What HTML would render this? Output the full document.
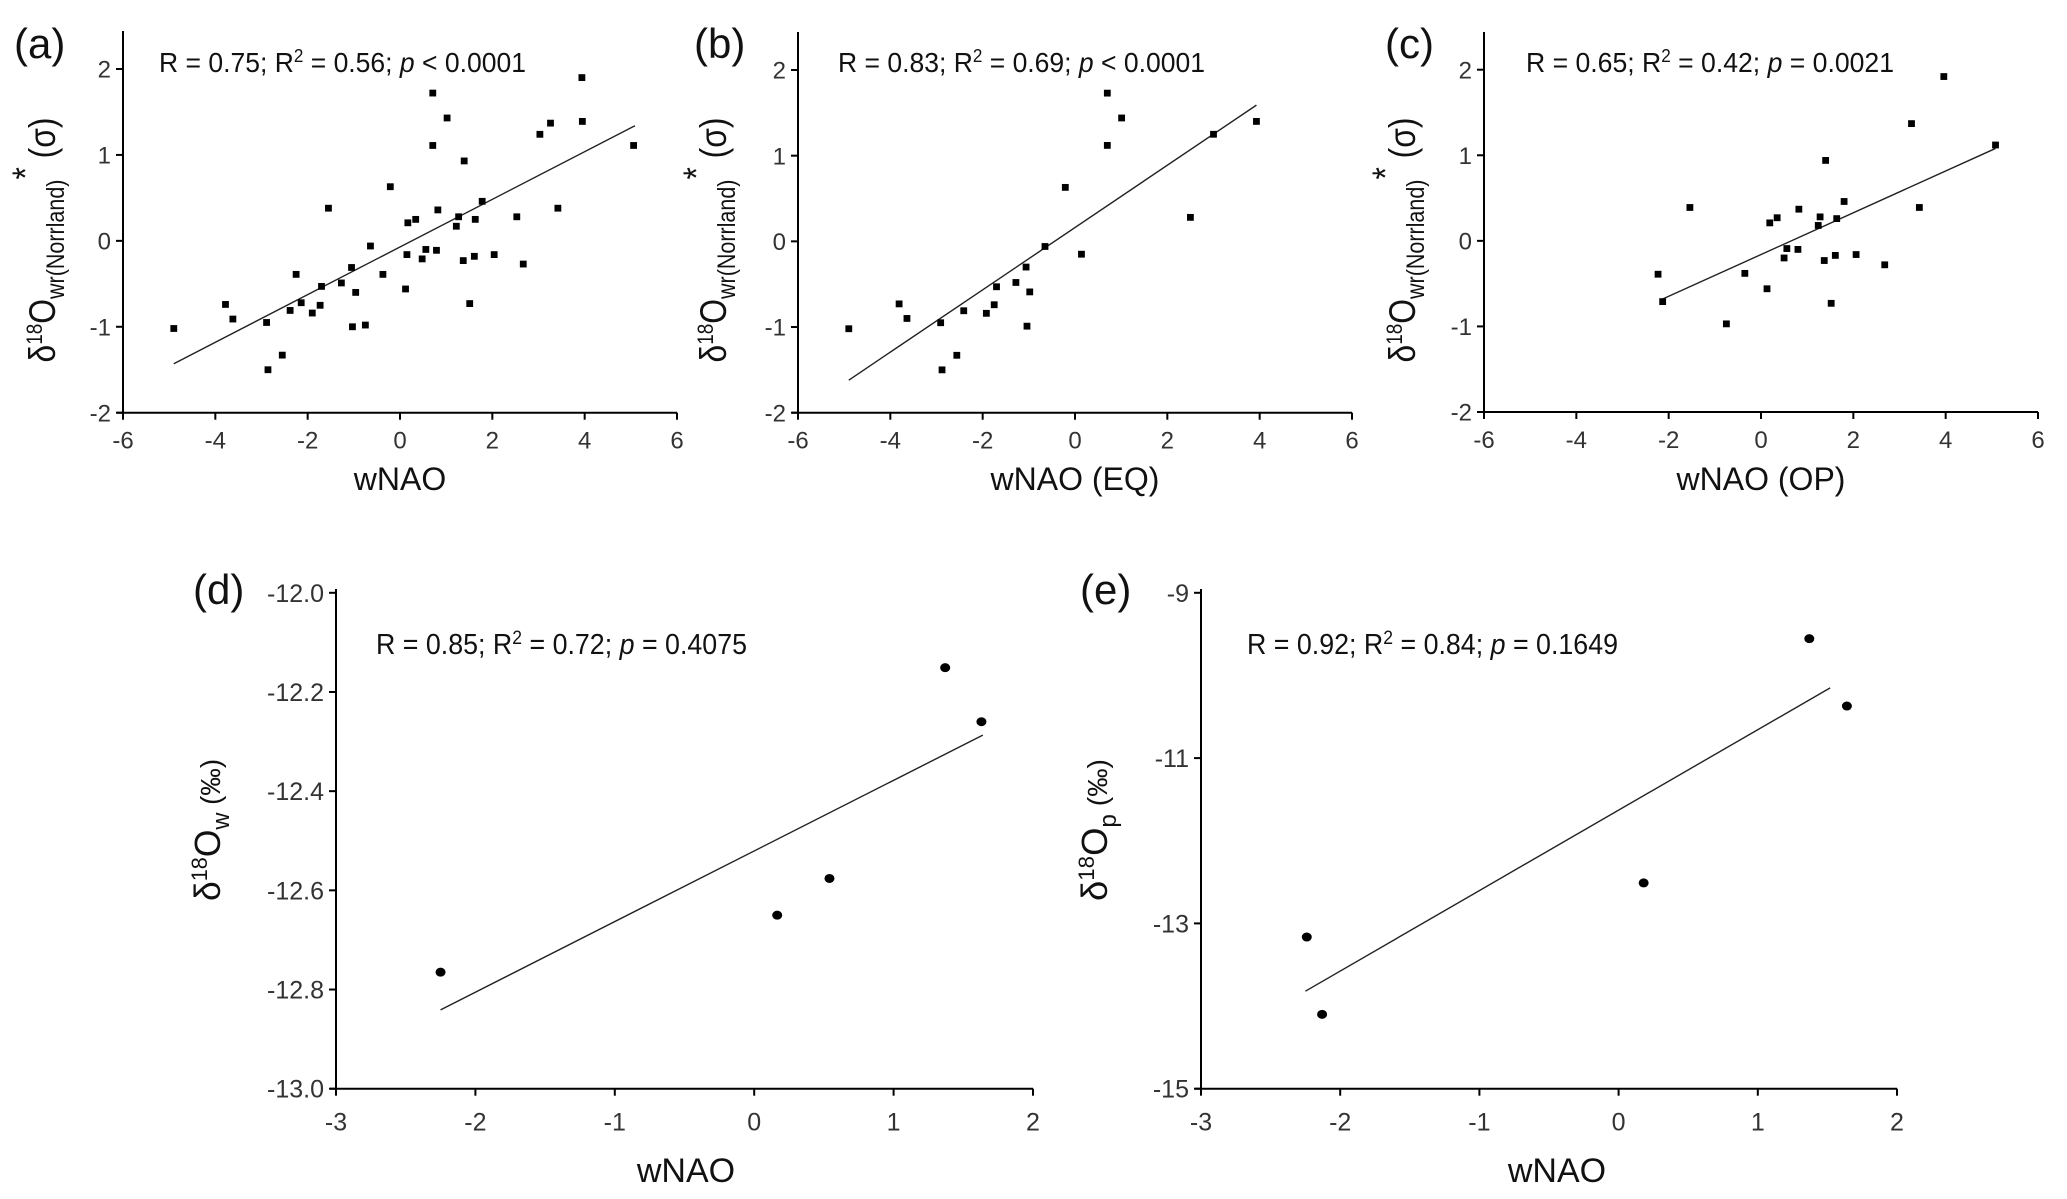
<!DOCTYPE html>
<html><head><meta charset="utf-8"><style>
html,body{margin:0;padding:0;background:#fff;}
svg{display:block;font-family:"Liberation Sans",Arial,sans-serif;}
</style></head><body>
<svg id="fig" width="2067" height="1199" viewBox="0 0 2067 1199" xmlns="http://www.w3.org/2000/svg"></svg>
<script>
// ---- data ----
const aX=[-4.90,-3.78,-3.62,-2.89,-2.86,-2.55,-2.38,-2.25,-2.14,-1.90,-1.73,-1.70,-1.55,-1.27,-1.05,-1.03,-0.96,-0.75,-0.64,-0.37,-0.21,0.12,0.15,0.17,0.34,0.48,0.56,0.71,0.71,0.79,0.82,1.02,1.22,1.27,1.37,1.39,1.51,1.61,1.63,1.78,2.04,2.53,2.67,3.03,3.26,3.42,3.94,3.95,5.06];
const aY=[-1.02,-0.74,-0.91,-0.95,-1.50,-1.33,-0.81,-0.39,-0.72,-0.84,-0.75,-0.53,0.38,-0.49,-0.31,-1.00,-0.60,-0.98,-0.06,-0.39,0.63,-0.56,-0.16,0.21,0.25,-0.21,-0.10,1.72,1.11,-0.11,0.36,1.43,0.17,0.28,-0.23,0.93,-0.73,-0.18,0.25,0.46,-0.16,0.28,-0.27,1.24,1.37,0.38,1.90,1.39,1.11];
const aFit=[[-4.90,-1.43],[5.09,1.34]];
const bX=[-4.90,-3.81,-3.64,-2.91,-2.88,-2.56,-2.41,-1.92,-1.75,-1.70,-1.28,-1.06,-1.04,-0.98,-0.65,-0.21,0.14,0.70,0.70,1.01,2.50,3.00,3.93];
const bY=[-1.02,-0.73,-0.90,-0.95,-1.50,-1.33,-0.81,-0.84,-0.74,-0.53,-0.48,-0.30,-0.99,-0.59,-0.06,0.63,-0.15,1.73,1.12,1.44,0.28,1.25,1.40];
const bFit=[[-4.90,-1.62],[3.93,1.59]];
const cX=[-2.23,-2.13,-1.54,-0.75,-0.35,0.13,0.19,0.35,0.50,0.56,0.80,0.82,1.24,1.28,1.37,1.40,1.52,1.61,1.64,1.80,2.06,2.68,3.26,3.43,3.96,5.08];
const cY=[-0.39,-0.71,0.39,-0.97,-0.38,-0.56,0.21,0.27,-0.20,-0.09,-0.10,0.37,0.18,0.28,-0.23,0.94,-0.73,-0.17,0.26,0.46,-0.16,-0.28,1.37,0.39,1.92,1.12];
const cFit=[[-2.13,-0.68],[5.08,1.08]];
const dX=[-2.25,0.165,0.54,1.37,1.63];
const dY=[-12.765,-12.650,-12.576,-12.151,-12.260];
const dFit=[[-2.25,-12.841],[1.64,-12.287]];
const eX=[-2.24,-2.13,0.18,1.37,1.64];
const eY=[-13.165,-14.10,-12.51,-9.555,-10.37];
const eFit=[[-2.25,-13.82],[1.52,-10.15]];
const topXTicks=[-6,-4,-2,0,2,4,6];
const topYTicks=[-2,-1,0,1,2];
const botXTicks=[-3,-2,-1,0,1,2];
const dYTicks=[-13.0,-12.8,-12.6,-12.4,-12.2,-12.0];
const dYLabels=["-13.0","-12.8","-12.6","-12.4","-12.2","-12.0"];
const eYTicks=[-15,-13,-11,-9];

const NS="http://www.w3.org/2000/svg";
const svg=document.getElementById('fig');
function el(tag,attrs,parent){const e=document.createElementNS(NS,tag);for(const k in attrs)e.setAttribute(k,attrs[k]);(parent||svg).appendChild(e);return e;}

function panel(cfg){
  const g=el('g',{});
  
  
  const sx=v=>cfg.x0+(v-cfg.xmin)/(cfg.xmax-cfg.xmin)*(cfg.x1-cfg.x0);
  const sy=v=>cfg.yb+(v-cfg.ymin)/(cfg.ymax-cfg.ymin)*(cfg.yt-cfg.yb);
  const ya=el('line',{x1:cfg.x0,y1:cfg.top,x2:cfg.x0,y2:cfg.yb+6,stroke:'#000','stroke-width':2},g);
  
  
  const xa=el('line',{x1:cfg.x0-6,y1:cfg.yb,x2:cfg.x1,y2:cfg.yb,stroke:'#000','stroke-width':2},g);
  
  
  cfg.xticks.forEach(v=>{
    const X=sx(v);
    el('line',{x1:X,y1:cfg.yb,x2:X,y2:cfg.yb+7,stroke:'#000','stroke-width':2},g);
    const t=el('text',{x:X,y:cfg.yb+cfg.xlOff,'text-anchor':'middle','font-size':cfg.tfs,fill:'#333'},g);
    
    
    t.textContent=String(v);
  });
  cfg.yticks.forEach((v,i)=>{
    const Y=sy(v);
    el('line',{x1:cfg.x0-7,y1:Y,x2:cfg.x0,y2:Y,stroke:'#000','stroke-width':2},g);
    const t=el('text',{x:cfg.x0-12,y:Y+cfg.tfs*0.36,'text-anchor':'end','font-size':cfg.tfs,fill:'#333'},g);
    
    
    t.textContent=cfg.ylabels?cfg.ylabels[i]:String(v);
  });
  const fl=el('line',{x1:sx(cfg.fit[0][0]),y1:sy(cfg.fit[0][1]),x2:sx(cfg.fit[1][0]),y2:sy(cfg.fit[1][1]),stroke:'#222','stroke-width':1.4},g);
  
  
  cfg.xs.forEach((xv,i)=>{
    let m;
    if(cfg.circle){m=el('ellipse',{cx:sx(xv),cy:sy(cfg.ys[i]),rx:5,ry:4.5,fill:'#000'},g);}
    else{m=el('rect',{x:sx(xv)-3.4,y:sy(cfg.ys[i])-3.4,width:6.8,height:6.8,fill:'#000'},g);}
    
    
  });
  const L=el('text',{x:cfg.lx,y:cfg.ly,'font-size':42,fill:'#111'},g);
  
  
  L.textContent=cfg.letter;
  const S=el('text',{x:cfg.sx,y:cfg.sy,'font-size':cfg.sfs,fill:'#111',textLength:cfg.sw,lengthAdjust:'spacingAndGlyphs'},g);
  
  
  S.innerHTML=cfg.stats;
  const XL=el('text',{x:cfg.xlx,y:cfg.xly,'text-anchor':'middle','font-size':cfg.xfs,fill:'#111'},g);
  
  
  XL.textContent=cfg.xlabel;
  const YL=el('text',{x:0,y:0,'text-anchor':'middle','font-size':cfg.yfs,fill:'#111',transform:`translate(${cfg.ylx},${cfg.yly}) rotate(-90)`,textLength:cfg.ylw,lengthAdjust:'spacingAndGlyphs'},g);
  
  
  YL.innerHTML=cfg.ylabel;
}
const topYL='δ<tspan font-size="22" dy="-13">18</tspan><tspan dy="13">O</tspan><tspan font-size="25" dy="9">wr(Norrland)</tspan><tspan dy="-26">*</tspan><tspan dy="17"> (σ)</tspan>';
const common={xmin:-6,xmax:6,ymin:-2,ymax:2,xticks:topXTicks,yticks:topYTicks,tfs:24,xlOff:36,sfs:28,xfs:32,yfs:37,ylw:245,xly:490,yly:240,sy:72,ly:58};
panel(Object.assign({},common,{name:'panel-a',letter:'(a)',lx:14,x0:123,x1:677,yb:412.7,yt:69,top:31,xs:aX,ys:aY,fit:aFit,sx:159,sw:367,
  stats:'R = 0.75; R<tspan font-size="18" dy="-10">2</tspan><tspan dy="10"> = 0.56; </tspan><tspan font-style="italic">p</tspan> &lt; 0.0001',
  xlabel:'wNAO',xlx:400,ylx:55,ylabel:topYL}));
panel(Object.assign({},common,{name:'panel-b',letter:'(b)',lx:694,x0:798,x1:1352,yb:412.7,yt:70,top:32,xs:bX,ys:bY,fit:bFit,sx:838,sw:367,
  stats:'R = 0.83; R<tspan font-size="18" dy="-10">2</tspan><tspan dy="10"> = 0.69; </tspan><tspan font-style="italic">p</tspan> &lt; 0.0001',
  xlabel:'wNAO (EQ)',xlx:1075,ylx:726,ylabel:topYL}));
panel(Object.assign({},common,{name:'panel-c',letter:'(c)',lx:1385,x0:1484,x1:2038,yb:412,yt:69.7,top:32,xs:cX,ys:cY,fit:cFit,sx:1526,sw:368,
  stats:'R = 0.65; R<tspan font-size="18" dy="-10">2</tspan><tspan dy="10"> = 0.42; </tspan><tspan font-style="italic">p</tspan> = 0.0021',
  xlabel:'wNAO (OP)',xlx:1761,ylx:1415,ylabel:topYL}));
panel({name:'panel-d',letter:'(d)',lx:193,ly:604,xmin:-3,xmax:2,ymin:-13,ymax:-12,xticks:botXTicks,yticks:dYTicks,ylabels:dYLabels,
  x0:336,x1:1033,yb:1088.7,yt:592.8,top:589,xs:dX,ys:dY,fit:dFit,circle:true,tfs:25,xlOff:42,sx:376,sy:654,sw:371,sfs:29,
  stats:'R = 0.85; R<tspan font-size="19" dy="-10">2</tspan><tspan dy="10"> = 0.72; </tspan><tspan font-style="italic">p</tspan> = 0.4075',
  xlabel:'wNAO',xlx:686,xly:1182,xfs:34,ylx:220,yly:830,yfs:36,ylw:142,
  ylabel:'δ<tspan font-size="22" dy="-13">18</tspan><tspan dy="13">O</tspan><tspan font-size="24" dy="9">w</tspan><tspan font-size="28" dy="-9">  (‰)</tspan>'});
panel({name:'panel-e',letter:'(e)',lx:1080,ly:604,xmin:-3,xmax:2,ymin:-15,ymax:-9,xticks:botXTicks,yticks:eYTicks,
  x0:1201,x1:1897,yb:1088.7,yt:592.8,top:589,xs:eX,ys:eY,fit:eFit,circle:true,tfs:25,xlOff:42,sx:1247,sy:654,sw:371,sfs:29,
  stats:'R = 0.92; R<tspan font-size="19" dy="-10">2</tspan><tspan dy="10"> = 0.84; </tspan><tspan font-style="italic">p</tspan> = 0.1649',
  xlabel:'wNAO',xlx:1557,xly:1182,xfs:34,ylx:1107,yly:830,yfs:36,ylw:142,
  ylabel:'δ<tspan font-size="22" dy="-13">18</tspan><tspan dy="13">O</tspan><tspan font-size="24" dy="9">p</tspan><tspan font-size="28" dy="-9">  (‰)</tspan>'});
</script>
</body></html>
